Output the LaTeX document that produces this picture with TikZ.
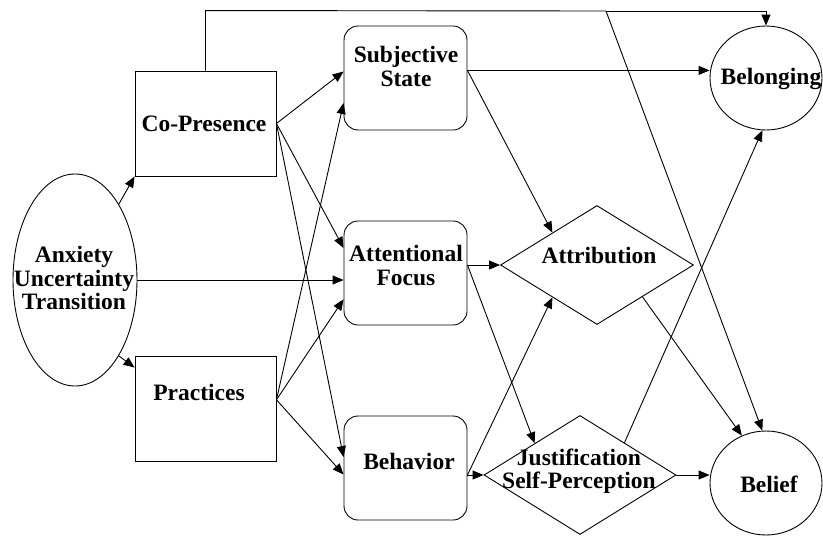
\documentclass[tikz,border=0pt]{standalone}
\usepackage{fontspec}
\setmainfont{Liberation Serif}
\usetikzlibrary{arrows.meta,shapes.geometric}

\tikzset{
  txt/.style={font=\fontsize{23.5}{23.5}\selectfont\bfseries, align=center, inner sep=0pt},
  sqbox/.style={draw, minimum width=141pt, minimum height=105pt, inner sep=0pt},
  rbox/.style={draw, rounded corners=14pt, minimum width=123pt, minimum height=104pt, inner sep=0pt},
  oval/.style={draw, ellipse, inner sep=0pt},
  dmd/.style={draw, diamond, minimum width=193pt, minimum height=119pt, inner sep=0pt},
  arr/.style={-{Triangle[length=11pt,width=9pt]}},
}

\begin{document}
\begin{tikzpicture}[line width=0.9pt]
  \tikzset{x={(1pt,0pt)}, y={(0pt,-1pt)}}
  \useasboundingbox (0,0) rectangle (823,536);
  % shapes
  \node[oval, minimum width=124pt, minimum height=212pt] (anx) at (75,280) {};
  \node[sqbox] (cop) at (205.5,123.5) {};
  \node[sqbox] (prac) at (205.5,408.5) {};
  \node[rbox] (subj) at (405.5,78) {};
  \node[rbox] (att) at (405.5,273) {};
  \node[rbox] (beh) at (405.5,468) {};
  \node[dmd] (attr) at (597,265) {};
  \node[dmd, minimum width=192pt] (just) at (580,475) {};
  \node[oval, minimum width=112pt, minimum height=104pt] (belong) at (766,78) {};
  \node[oval, minimum width=112pt, minimum height=104pt] (belief) at (766,483) {};
  % labels
  \node[txt] (anxlbl) at (74,278) {Anxiety\\Uncertainty\\Transition};
  \node[txt] (coplbl) at (204,124) {Co-Presence};
  \node[txt] (praclbl) at (199,392) {Practices};
  \node[txt] (subjlbl) at (406,66.5) {Subjective\\State};
  \node[txt] (attlbl) at (406,265.5) {Attentional\\Focus};
  \node[txt] (behlbl) at (409,461) {Behavior};
  \node[txt] (attrlbl) at (599,255) {Attribution};
  \node[txt] (justlbl) at (579,471) {Justification\\Self-Perception};
  \node[txt] (belonglbl) at (771,79) {Belonging};
  \node[txt] (belieflbl) at (769,484) {Belief};
  \coordinate (split) at (606,11);
  % arrows
  \draw[arr] (anx.60) -- (cop.south west);
  \draw[arr] (anx.-60) -- (prac.150);
  \draw[arr] (anx.east) -- (anx.east -| att.west);
  \draw[arr] (cop.east) -- (subj.174);
  \draw[arr] (cop.east) -- (att.158);
  \draw[arr] (cop.east) -- (beh.170);
  \draw[arr] (prac.7) -- (subj.-158);
  \draw[arr] (prac.7) -- (att.-157);
  \draw[arr] (prac.7) -- (beh.-174);
  \draw (cop.north) -- ++(0,-60) -- (split);
  \draw[arr] (split) -| (belong.north);
  \draw[arr] (split) -- (belief.94);
  \draw[arr] (subj.7) -- (subj.7 -| belong.west);
  \draw[arr] (subj.7) -- (attr.144);
  \draw[arr] (attr.west -| att.east) -- (attr.west);
  \draw[arr] (attr.west -| att.east) -- (just.145);
  \draw[arr] (just.west -| beh.east) -- (just.west);
  \draw[arr] (just.west -| beh.east) -- (attr.216);
  \draw[arr] (attr.-35) -- (belief.117);
  \draw[arr] (just.36) -- (belong.-94);
  \draw[arr] (just.east) -- (just.east -| belief.west);
\end{tikzpicture}
\end{document}
